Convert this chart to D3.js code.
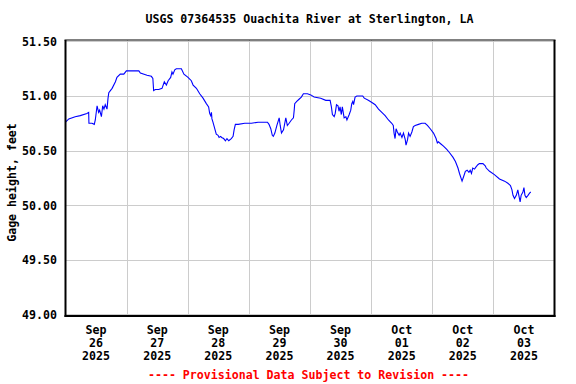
<!DOCTYPE html>
<html><head><meta charset="utf-8">
<script src="https://cdn.jsdelivr.net/npm/d3@7"></script>
<style>
html,body{margin:0;padding:0;background:#fff;}
svg text{font-family:"DejaVu Sans Mono",monospace;font-weight:bold;}
</style></head>
<body><svg id="c" width="576" height="384"></svg>
<script>
// hours since 2025-09-26 00:00
const hours = [0,1.3,3.8,5.8,8.4,9.1,9.2,10.4,11.3,11.7,12.4,13.0,13.4,14.1,14.6,15.1,15.6,16.3,16.7,17.0,
18.3,19.6,20.2,21.5,22.9,23.9,28.8,29.4,32.0,33.7,34.3,34.6,35.3,36.6,37.9,38.8,39.6,40.3,41.3,41.8,
42.2,42.9,43.5,45.5,46.5,48.1,49.4,50.1,51.4,52.7,54.0,55.3,56.2,56.6,57.0,57.3,57.5,57.9,58.6,59.2,
59.9,60.3,60.9,61.3,62.1,62.8,63.4,64.1,65.1,65.8,66.2,66.7,67.8,70.4,73.0,75.6,79.3,79.9,80.6,81.2,
81.6,82.2,83.0,83.9,84.3,84.8,85.6,86.5,87.1,87.8,88.7,89.5,89.8,90.0,90.8,91.7,92.6,93.4,95.0,96.3,
97.6,100.2,102.2,103.9,104.4,104.8,105.5,105.9,106.4,107.0,107.4,107.8,108.3,108.7,109.4,110.1,110.5,111.4,112.0,112.4,
112.8,113.1,113.7,114.4,116.7,117.3,118.9,120.3,121.6,122.9,124.2,125.5,126.8,128.1,128.7,129.0,129.4,129.8,130.3,131.0,
131.4,132.1,132.7,133.4,133.7,134.3,134.7,135.3,136.0,136.6,137.3,138.6,139.9,141.2,142.1,143.2,144.5,145.5,146.0,146.4,
147.4,148.4,149.7,150.8,152.1,153.1,154.1,154.7,155.4,155.7,156.3,157.0,157.7,158.4,158.9,159.4,159.9,160.6,161.2,161.9,
162.5,163.9,164.8,165.2,166.5,168.4,170.4,172.4,173.7,174.7,175.3,175.7,176.3,177.0,177.6,178.0,178.5,178.9,179.6,180.0,
180.4,180.9,181.6,182.2,182.7];
const gage = [50.76,50.79,50.81,50.82,50.84,50.85,50.75,50.75,50.74,50.78,50.91,50.85,50.87,50.81,50.91,50.88,50.92,50.88,50.98,51.03,
51.07,51.13,51.17,51.20,51.20,51.23,51.23,51.21,51.19,51.18,51.16,51.05,51.06,51.06,51.07,51.13,51.10,51.14,51.17,51.22,
51.20,51.24,51.25,51.25,51.20,51.17,51.14,51.10,51.07,51.02,50.98,50.93,50.90,50.84,50.82,50.85,50.79,50.76,50.70,50.65,
50.64,50.62,50.63,50.62,50.61,50.59,50.61,50.59,50.61,50.63,50.69,50.74,50.74,50.75,50.75,50.76,50.76,50.74,50.70,50.64,
50.63,50.66,50.73,50.80,50.73,50.66,50.69,50.80,50.73,50.75,50.78,50.80,50.87,50.93,50.95,50.97,50.99,51.02,51.02,51.01,
50.99,50.98,50.96,50.96,50.90,50.83,50.81,50.84,50.92,50.91,50.86,50.90,50.83,50.90,50.80,50.81,50.78,50.83,50.87,50.93,
50.95,50.92,50.99,51.00,51.00,50.98,50.96,50.94,50.92,50.88,50.85,50.82,50.78,50.75,50.73,50.66,50.61,50.70,50.67,50.64,
50.66,50.62,50.66,50.60,50.55,50.60,50.66,50.63,50.67,50.72,50.73,50.74,50.75,50.75,50.73,50.70,50.66,50.61,50.57,50.58,
50.56,50.54,50.51,50.48,50.44,50.40,50.34,50.29,50.24,50.22,50.26,50.31,50.32,50.30,50.32,50.29,50.34,50.33,50.35,50.37,
50.38,50.38,50.36,50.34,50.31,50.28,50.24,50.22,50.20,50.18,50.14,50.09,50.06,50.09,50.14,50.09,50.03,50.09,50.12,50.16,
50.09,50.07,50.09,50.11,50.12];
const yTicks = [49.00,49.50,50.00,50.50,51.00,51.50];
const dayLabels = [["Sep","26","2025"],["Sep","27","2025"],["Sep","28","2025"],["Sep","29","2025"],
  ["Sep","30","2025"],["Oct","01","2025"],["Oct","02","2025"],["Oct","03","2025"]];
const titleText = "USGS 07364535 Ouachita River at Sterlington, LA";
const yTitle = "Gage height, feet";
const footer = "---- Provisional Data Subject to Revision ----";

const svg = d3.select("#c");
const t0 = new Date(2025,8,26);
const t1 = new Date(2025,9,4);
const L=65.5, R=554.5, T=40, B=316;
const x = d3.scaleTime().domain([t0,t1]).range([L,R]);
const y = d3.scaleLinear().domain([49,51.5]).range([314.3,41.4]);

const data = hours.map((h,i)=>({t:new Date(t0.getTime()+h*3600e3), v:gage[i]}));
const days = d3.timeDay.range(t0, t1);

// grid
const g = svg.append("g");
g.selectAll("line.h").data(yTicks).join("line")
  .attr("x1",L).attr("x2",R).attr("y1",d=>Math.round(y(d))+0.5).attr("y2",d=>Math.round(y(d))+0.5)
  .attr("stroke","#cccccc").attr("stroke-width",1).attr("shape-rendering","crispEdges");
g.selectAll("line.v").data(days.slice(1)).join("line")
  .attr("y1",T).attr("y2",B).attr("x1",d=>Math.round(x(d))+0.5).attr("x2",d=>Math.round(x(d))+0.5)
  .attr("stroke","#cccccc").attr("stroke-width",1).attr("shape-rendering","crispEdges");

// line
svg.append("path").datum(data)
  .attr("d", d3.line().x(d=>x(d.t)).y(d=>y(d.v)))
  .attr("fill","none").attr("stroke","#0000ff").attr("stroke-width",1.1);

// border
svg.append("line").attr("x1",L-1).attr("x2",R+1).attr("y1",T).attr("y2",T).attr("stroke","#000").attr("stroke-width",1);
svg.append("line").attr("x1",L).attr("x2",L).attr("y1",T).attr("y2",B+1).attr("stroke","#000").attr("stroke-width",2);
svg.append("line").attr("x1",R).attr("x2",R).attr("y1",T).attr("y2",B+1).attr("stroke","#000").attr("stroke-width",2);
svg.append("line").attr("x1",L-1).attr("x2",R+1).attr("y1",B).attr("y2",B).attr("stroke","#000").attr("stroke-width",2);

// y tick labels
svg.selectAll("text.yt").data(yTicks).join("text")
  .attr("x",57).attr("y",d=>y(d)+4.5).attr("text-anchor","end")
  .attr("font-size","11.6px").attr("fill","#000").text(d3.format(".2f"));

// y title
svg.append("text").attr("transform","translate(15.5,182.5) rotate(-90)")
  .attr("text-anchor","middle").attr("font-size","11.6px").text(yTitle);

// x labels at noon
const xl = svg.selectAll("g.xl").data(days).join("g")
  .attr("transform",d=>`translate(${x(d3.timeHour.offset(d,12))},0)`);
[333.5,346.5,359.5].forEach((yy,k)=>{
  xl.append("text").attr("y",yy).attr("text-anchor","middle").attr("font-size","11.6px")
    .text((d,i)=>dayLabels[i][k]);
});

// title
svg.append("text").attr("x",309.5).attr("y",23).attr("text-anchor","middle")
  .attr("font-size","11.6px").text(titleText);
// footer
svg.append("text").attr("x",308.5).attr("y",379).attr("text-anchor","middle")
  .attr("font-size","11.6px").attr("fill","#ff0000").text(footer);
</script></body></html>
